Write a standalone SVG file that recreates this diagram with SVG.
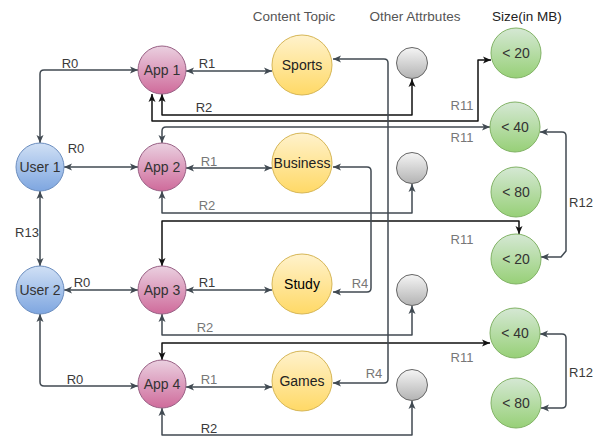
<svg xmlns="http://www.w3.org/2000/svg" width="603" height="439" viewBox="0 0 603 439">
<style>
text{font-family:"Liberation Sans",Arial,sans-serif;}
.hdr{font-size:13.5px;text-anchor:middle;fill:#555;}
.nl{font-size:14px;text-anchor:middle;fill:#333;}
.lb{font-size:13px;text-anchor:middle;fill:#3a3a3a;}
.lg{font-size:13px;text-anchor:middle;fill:#777;}
.c{fill:none;stroke:#414a52;stroke-width:1.5;stroke-linejoin:round;marker-start:url(#ag);marker-end:url(#ag);}
.k{fill:none;stroke:#111;stroke-width:1.5;stroke-linejoin:round;marker-start:url(#ak);marker-end:url(#ak);}
.user{fill:url(#gU);stroke:#6c8ebf;stroke-width:1;}
.app{fill:url(#gA);stroke:#996185;stroke-width:1;}
.top{fill:url(#gT);stroke:#d6b656;stroke-width:1;}
.oth{fill:url(#gO);stroke:#666;stroke-width:1;}
.sz{fill:url(#gS);stroke:#82b366;stroke-width:1;}
</style>
<defs>
<linearGradient id="gU" x1="0" y1="0" x2="0" y2="1"><stop offset="0" stop-color="#d0e0f5"/><stop offset="1" stop-color="#7ea6e0"/></linearGradient>
<linearGradient id="gA" x1="0" y1="0" x2="0" y2="1"><stop offset="0" stop-color="#ead0e0"/><stop offset="1" stop-color="#cf6b9b"/></linearGradient>
<linearGradient id="gT" x1="0" y1="0" x2="0" y2="1"><stop offset="0" stop-color="#fff2cc"/><stop offset="1" stop-color="#ffd966"/></linearGradient>
<linearGradient id="gO" x1="0" y1="0" x2="0" y2="1"><stop offset="0" stop-color="#f5f5f5"/><stop offset="1" stop-color="#b3b3b3"/></linearGradient>
<linearGradient id="gS" x1="0" y1="0" x2="0" y2="1"><stop offset="0" stop-color="#d5e8d4"/><stop offset="1" stop-color="#97d077"/></linearGradient>
<marker id="ag" markerUnits="userSpaceOnUse" markerWidth="10" markerHeight="10" viewBox="0 0 10 10" refX="9" refY="5" orient="auto-start-reverse"><path d="M1,1.5 L9,5 L1,8.5 L3,5 Z" fill="#414a52"/></marker>
<marker id="ak" markerUnits="userSpaceOnUse" markerWidth="10" markerHeight="10" viewBox="0 0 10 10" refX="9" refY="5" orient="auto-start-reverse"><path d="M1,1.5 L9,5 L1,8.5 L3,5 Z" fill="#111"/></marker>
</defs>

<text class="hdr" x="294" y="21">Content Topic</text>
<text class="hdr" x="415" y="21">Other Attrbutes</text>
<text class="hdr" x="527" y="21" style="fill:#222">Size(in MB)</text>

<g id="connectors">
<path class="c" d="M40,143 V74 Q40,70 44,70 H138"/>
<path class="c" d="M64,167 H138"/>
<path class="c" d="M40,191 V266"/>
<path class="c" d="M64,290 H138"/>
<path class="c" d="M40,314 V382 Q40,386 44,386 H138"/>
<path class="c" d="M186,71 H272"/>
<path class="c" d="M186,168 H272"/>
<path class="c" d="M186,290 H272"/>
<path class="c" d="M186,387 H272"/>
<path class="k" d="M162,94 V115 H412 V79"/>
<path class="k" d="M152,94 V121 H478 V60 H491"/>
<path class="c" d="M162,143 V131 Q162,127 166,127 H490"/>
<path class="c" d="M162,191 V213 H412 V184"/>
<path class="k" d="M162,266 V221 H519 V234"/>
<path class="c" d="M162,314 V335 H412 V306"/>
<path class="k" d="M162,360 V343 H490"/>
<path class="c" d="M162,408 V435 H412 V401"/>
<path class="c" d="M333,59 H384 Q388,59 388,63 V379 Q388,383 384,383 H333"/>
<path class="c" d="M333,167 H367 Q371,167 371,171 V288 Q371,292 367,292 H333"/>
<path class="c" d="M540,132 H562 Q566,132 566,136 V251 L561,257 H541"/>
<path class="c" d="M540,334 H562 Q566,334 566,338 V404 Q566,408 562,408 H541"/>

<text class="lb" x="70" y="68">R0</text>
<text class="lb" x="76" y="153">R0</text>
<text class="lb" x="27" y="237">R13</text>
<text class="lb" x="82" y="287">R0</text>
<text class="lb" x="75" y="384">R0</text>
<text class="lb" x="207" y="68">R1</text>
<text class="lb" x="204" y="112">R2</text>
<text class="lg" x="209" y="166">R1</text>
<text class="lg" x="207" y="210">R2</text>
<text class="lb" x="207" y="287">R1</text>
<text class="lg" x="205" y="332">R2</text>
<text class="lg" x="209" y="384">R1</text>
<text class="lb" x="209" y="433">R2</text>
<text class="lg" x="462" y="110">R11</text>
<text class="lg" x="462" y="142">R11</text>
<text class="lg" x="462" y="244">R11</text>
<text class="lg" x="462" y="362">R11</text>
<text class="lb" x="581" y="207">R12</text>
<text class="lb" x="581" y="377">R12</text>
<text class="lg" x="360" y="288">R4</text>
<text class="lg" x="374" y="378">R4</text>
</g>

<g id="user1"><circle class="user" cx="40" cy="167" r="24"/><text class="nl" x="40" y="172">User 1</text></g>
<g id="user2"><circle class="user" cx="40" cy="290" r="24"/><text class="nl" x="40" y="295">User 2</text></g>
<g id="app1"><circle class="app" cx="162" cy="70" r="24"/><text class="nl" x="162" y="75">App 1</text></g>
<g id="app2"><circle class="app" cx="162" cy="167" r="24"/><text class="nl" x="162" y="172">App 2</text></g>
<g id="app3"><circle class="app" cx="162" cy="290" r="24"/><text class="nl" x="162" y="295">App 3</text></g>
<g id="app4"><circle class="app" cx="162" cy="384" r="24"/><text class="nl" x="162" y="389">App 4</text></g>
<g id="sports"><circle class="top" cx="302" cy="65" r="30"/><text class="nl" x="302" y="70" style="fill:#222">Sports</text></g>
<g id="business"><circle class="top" cx="302" cy="163" r="30"/><text class="nl" x="302" y="168" style="fill:#222">Business</text></g>
<g id="study"><circle class="top" cx="302" cy="284" r="30"/><text class="nl" x="302" y="289" style="fill:#000">Study</text></g>
<g id="games"><circle class="top" cx="302" cy="381" r="30"/><text class="nl" x="302" y="386" style="fill:#222">Games</text></g>
<g id="attr1"><circle class="oth" cx="412" cy="63" r="15.5"/></g>
<g id="attr2"><circle class="oth" cx="412" cy="168" r="15.5"/></g>
<g id="attr3"><circle class="oth" cx="412" cy="290" r="15.5"/></g>
<g id="attr4"><circle class="oth" cx="412" cy="385" r="15.5"/></g>
<g id="size20a"><circle class="sz" cx="516" cy="53" r="25"/><text class="nl" x="516" y="58">&lt; 20</text></g>
<g id="size40a"><circle class="sz" cx="515" cy="127" r="25"/><text class="nl" x="515" y="132">&lt; 40</text></g>
<g id="size80a"><circle class="sz" cx="516" cy="192" r="25"/><text class="nl" x="516" y="197">&lt; 80</text></g>
<g id="size20b"><circle class="sz" cx="516" cy="259" r="25"/><text class="nl" x="516" y="264">&lt; 20</text></g>
<g id="size40b"><circle class="sz" cx="515" cy="333" r="25"/><text class="nl" x="515" y="338">&lt; 40</text></g>
<g id="size80b"><circle class="sz" cx="516" cy="403" r="25"/><text class="nl" x="516" y="408">&lt; 80</text></g>
</svg>
